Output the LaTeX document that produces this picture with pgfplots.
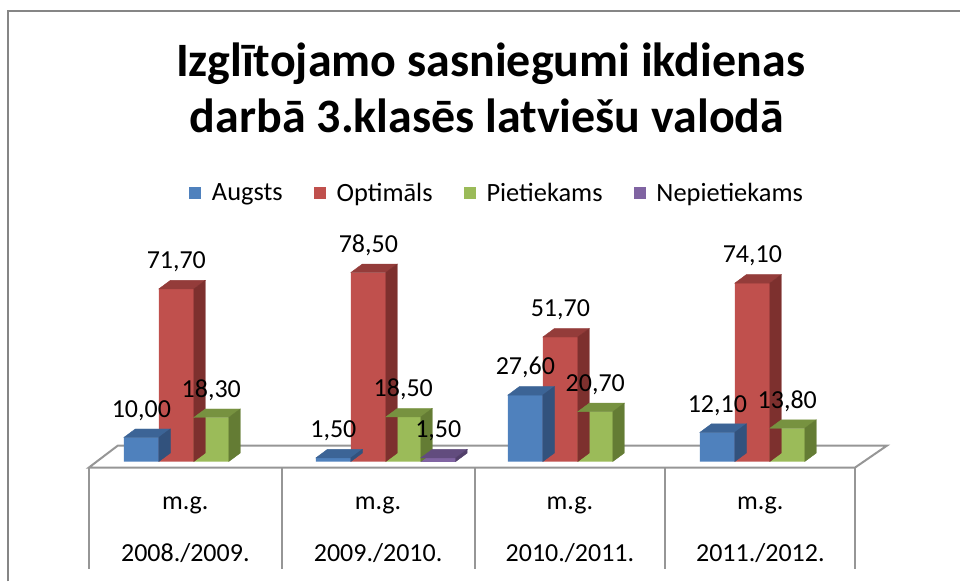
\documentclass[border=0pt]{standalone}
\usepackage{fontspec}
\setmainfont{Carlito}
\usepackage{pgfplots}
\usepackage{pgfplotstable}
\pgfplotsset{compat=1.18}

\definecolor{cA}{RGB}{79,129,189}\definecolor{cAt}{RGB}{60,100,150}\definecolor{cAs}{RGB}{50,82,125}
\definecolor{cO}{RGB}{192,80,77}\definecolor{cOt}{RGB}{148,60,58}\definecolor{cOs}{RGB}{125,48,46}
\definecolor{cP}{RGB}{155,187,89}\definecolor{cPt}{RGB}{119,146,64}\definecolor{cPs}{RGB}{100,124,52}
\definecolor{cN}{RGB}{128,100,162}\definecolor{cNt}{RGB}{98,76,126}\definecolor{cNs}{RGB}{82,63,106}
\definecolor{floorgray}{RGB}{150,150,150}
\definecolor{framegray}{RGB}{134,134,134}

\pgfdeclareplotmark{none3d}{}

\pgfplotstableread{
x v
1 10.0
2 1.5
3 27.6
4 12.1
}\tA
\pgfplotstableread{
x v
1 71.7
2 78.5
3 51.7
4 74.1
}\tO
\pgfplotstableread{
x v
1 18.3
2 18.5
3 20.7
4 13.8
}\tP
\pgfplotstableread{
x v
2 1.5
}\tN

\pgfplotsset{
  faces/.style n args={3}{%
    forget plot, only marks, mark=none3d, scatter,
    visualization depends on={\thisrow{v}\as\barh},
    scatter/@pre marker code/.code={%
      \fill[#2] (#1-17.5pt,0pt) -- (#1+17.5pt,0pt) -- (#1+29pt,8.5pt) -- (#1-6pt,8.5pt) -- cycle;
      \fill[#3] (#1+17.5pt,0pt) -- (#1+29pt,8.5pt) -- (#1+29pt,8.5pt-\barh*2.41pt) -- (#1+17.5pt,-\barh*2.41pt) -- cycle;
    },
    scatter/@post marker code/.code={},
  },
  front/.style n args={2}{ybar, bar width=35pt, bar shift=#1, fill=#2, draw=none},
  labels/.style={forget plot, ybar, bar width=35pt, bar shift=#1, draw=none, fill=none,
    nodes near coords,
    nodes near coords style={font=\fontsize{26}{30}\selectfont, inner sep=0pt, text depth=0pt, anchor=south, xshift=#1, yshift=20pt, text=black}},
}
\tikzset{catlab/.style={font=\fontsize{26}{30}\selectfont, anchor=base},
  titl/.style={font=\fontsize{48}{56}\selectfont\bfseries, anchor=base}}

\begin{document}
\begin{tikzpicture}
\begin{axis}[
  width=961pt, height=582pt, scale only axis,
  xmin=-0.00936, xmax=4.99064,
  ymin=-49.793, ymax=191.701,
  hide axis, clip=false,
  /pgf/number format/.cd, fixed, fixed zerofill, precision=2, use comma, assume math mode=true,
  /pgfplots/.cd,
  legend columns=4,
  legend cell align=left,
  legend image code/.code={\fill[#1,draw=none] (0pt,-6pt) rectangle (12pt,6pt);},
  legend style={at={(rel axis cs:0.19667,0.66838)}, anchor=west, draw=none, fill=none,
    inner sep=0pt, font=\fontsize{26.4}{30}\selectfont,
    nodes={inner sep=0pt},
    /tikz/every odd column/.append style={column sep=11pt},
    /tikz/every even column/.append style={column sep=31pt}},
]
\path (rel axis cs:0,0) rectangle (rel axis cs:1,1);
% frame
\draw[framegray, line width=2pt] (rel axis cs:0.00885,0) -- (rel axis cs:0.00885,0.9811) -- (rel axis cs:1,0.9811);

% floor
\addplot[forget plot, fill=white, draw=floorgray, line width=2pt] coordinates {(0.4537,-2.49) (4.4443,-2.49) (4.6108,6.64) (0.6046,6.64)} -- cycle;
% table lines
\addplot[forget plot, draw=floorgray, line width=2pt] coordinates {(0.4537,-2.49) (0.4537,-44.81)};
\addplot[forget plot, draw=floorgray, line width=2pt] coordinates {(1.4579,-2.49) (1.4579,-44.81)};
\addplot[forget plot, draw=floorgray, line width=2pt] coordinates {(2.4620,-2.49) (2.4620,-44.81)};
\addplot[forget plot, draw=floorgray, line width=2pt] coordinates {(3.4558,-2.49) (3.4558,-44.81)};
\addplot[forget plot, draw=floorgray, line width=2pt] coordinates {(4.4443,-2.49) (4.4443,-44.81)};

% bars
\addplot[front={-52.5pt}{cA}] table[x=x,y=v]{\tA};
\addplot[faces={-52.5pt}{cAt}{cAs}] table[x=x,y=v]{\tA};
\addplot[front={-17.5pt}{cO}] table[x=x,y=v]{\tO};
\addplot[faces={-17.5pt}{cOt}{cOs}] table[x=x,y=v]{\tO};
\addplot[front={17.5pt}{cP}] table[x=x,y=v]{\tP};
\addplot[faces={17.5pt}{cPt}{cPs}] table[x=x,y=v]{\tP};
\addplot[front={52.5pt}{cN}] table[x=x,y=v]{\tN};
\addplot[faces={52.5pt}{cNt}{cNs}] table[x=x,y=v]{\tN};
\legend{Augsts, Optimāls, Pietiekams, Nepietiekams}

% data labels
\addplot[labels=-52.5pt] table[x=x,y=v]{\tA};
\addplot[labels=-17.5pt] table[x=x,y=v]{\tO};
\addplot[labels=17.5pt] table[x=x,y=v]{\tP};
\addplot[labels=52.5pt] table[x=x,y=v]{\tN};

% title
\node[titl] at (axis cs:2.5453,159.75) {Izglītojamo sasniegumi ikdienas};
\node[titl] at (axis cs:2.5271,136.51) {darbā 3.klasēs latviešu valodā};

% category labels
\node[catlab] at (axis cs:0.9558,-19.92) {m.g.};
\node[catlab] at (axis cs:0.9558,-41.49) {2008./2009.};
\node[catlab] at (axis cs:1.9599,-19.92) {m.g.};
\node[catlab] at (axis cs:1.9599,-41.49) {2009./2010.};
\node[catlab] at (axis cs:2.9589,-19.92) {m.g.};
\node[catlab] at (axis cs:2.9589,-41.49) {2010./2011.};
\node[catlab] at (axis cs:3.9506,-19.92) {m.g.};
\node[catlab] at (axis cs:3.9506,-41.49) {2011./2012.};
\end{axis}
\end{tikzpicture}
\end{document}
